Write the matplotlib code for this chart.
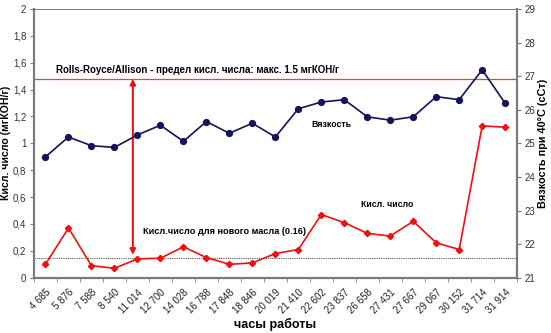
import matplotlib.pyplot as plt
from matplotlib.ticker import FixedLocator, FuncFormatter

plt.rcParams['font.family'] = ['Liberation Sans', 'DejaVu Sans']

# Données
heures = ['4 685', '5 876', '7 588', '8 540', '11 014', '12 700', '14 028', '16 788',
          '17 848', '18 846', '20 019', '21 410', '22 602', '23 837', '26 658', '27 431',
          '27 667', '29 067', '30 152', '31 714', '31 914']
kisl = [0.10, 0.37, 0.09, 0.07, 0.14, 0.145, 0.23, 0.15, 0.10, 0.11, 0.18,
        0.21, 0.47, 0.41, 0.33, 0.31, 0.42, 0.26, 0.21, 1.13, 1.12]
vyazk = [24.60, 25.19, 24.93, 24.88, 25.25, 25.54, 25.06, 25.65, 25.30, 25.60, 25.19,
         26.03, 26.23, 26.30, 25.79, 25.69, 25.79, 26.39, 26.30, 27.19, 26.19]
limite_rr = 1.48
kisl_neuf = 0.145

x = list(range(len(heures)))
gris = '#7a7a7a'

fig = plt.figure(figsize=(5.51, 3.33), dpi=100)
ax = fig.add_axes([0.0617, 0.166, 0.876, 0.807])
ax2 = ax.twinx()

ax.plot(x, kisl, color='#f01010', lw=1.2, marker='D', ms=3.2, zorder=3)
ax2.plot(x, vyazk, color='#14145a', lw=1.2, marker='o', ms=4.2, zorder=3)

ax.axhline(limite_rr, color='#ff3c3c', lw=0.9)
ax.axhline(kisl_neuf, color='#555555', lw=0.8, ls=(0, (1, 1)))
ax.annotate('', xy=(3.8, limite_rr), xytext=(3.8, 0.17),
            arrowprops=dict(arrowstyle='<|-|>', color='#ee1010', lw=1.5,
                            mutation_scale=8, shrinkA=0, shrinkB=0))

ax.text(0.45, 1.546, 'Rolls-Royce/Allison - предел кисл. числа: макс. 1.5 мгКОН/г',
        fontsize=7, fontweight='bold', va='center', ha='left')
ax.text(12.42, 1.137, 'Вязкость', fontsize=6.3, fontweight='bold', va='center', ha='center')
ax.text(14.85, 0.546, 'Кисл. число', fontsize=6.3, fontweight='bold', va='center', ha='center')
ax.text(4.23, 0.342, 'Кисл.число для нового масла (0.16)', fontsize=6.6,
        fontweight='bold', va='center', ha='left')

ax.set_xlim(-0.5, len(heures) - 0.5)
ax.set_ylim(0, 2)
ax2.set_ylim(21, 29)

ax.set_xticks(x)
ax.set_xticklabels(heures, rotation=45, ha='right', rotation_mode='anchor', fontsize=7)
ax.tick_params(axis='x', which='major', length=0, pad=7)
ax.xaxis.set_minor_locator(FixedLocator([i - 0.5 for i in range(len(heures) + 1)]))
ax.tick_params(axis='x', which='minor', length=3, color=gris)

ax.set_yticks([0, 0.2, 0.4, 0.6, 0.8, 1.0, 1.2, 1.4, 1.6, 1.8, 2.0])
ax.yaxis.set_major_formatter(FuncFormatter(lambda v, p: f'{v:g}'.replace('.', ',')))
ax.tick_params(axis='y', labelsize=7, length=3, pad=2.5, color=gris, labelcolor='#333333')
ax2.set_yticks(range(21, 30))
ax2.tick_params(axis='y', labelsize=7, length=3, pad=2.5, color=gris, labelcolor='#333333')
ax.tick_params(axis='x', labelcolor='#222222')

for a in (ax, ax2):
    for s in a.spines.values():
        s.set_color(gris)
    a.spines['top'].set_linewidth(0.6)
    a.spines['left'].set_linewidth(1.5)
    a.spines['right'].set_linewidth(1.5)
    a.spines['bottom'].set_linewidth(1.5)

ax.set_ylabel('Кисл. число (мгКОН/г)', fontsize=7.6, fontweight='bold', labelpad=1.5)
ax2.set_ylabel('Вязкость при 40°C (сСт)', fontsize=7.8, fontweight='bold', labelpad=2)
ax.set_xlabel('часы работы', fontsize=9, fontweight='bold', labelpad=2)

fig.savefig('out.png', dpi=100)
